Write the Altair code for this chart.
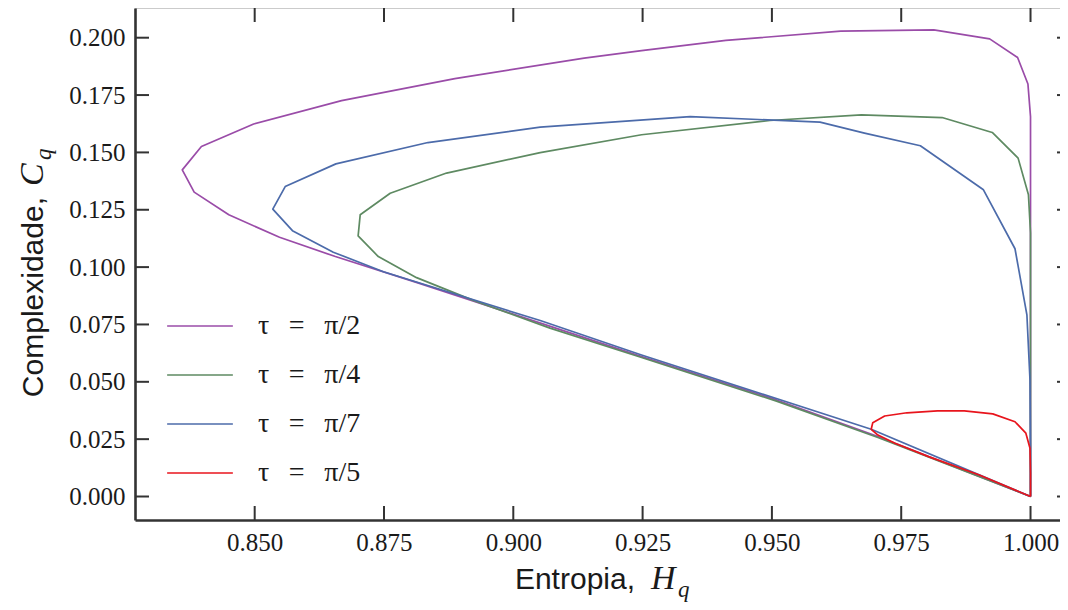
import altair as alt
import pandas as pd

# ---------------- data ----------------
labels = ["τ\u2002\u2009=\u2002\u2009π/2", "τ\u2002\u2009=\u2002\u2009π/4",
          "τ\u2002\u2009=\u2002\u2009π/7", "τ\u2002\u2009=\u2002\u2009π/5"]
colors = ["#9A4CA8", "#5E8A62", "#4C6BAA", "#E8141C"]
widths = [1.7, 1.7, 1.7, 2.3]

H_pi2 = [1.0, 0.9705, 0.9509, 0.9248, 0.9082, 0.8817, 0.8656, 0.8548, 0.8450, 0.8383,
         0.8360, 0.8397, 0.8498, 0.8668, 0.8887, 0.9137, 0.9248, 0.9411, 0.9633, 0.9813,
         0.9921, 0.9975, 0.9995, 1.0, 1.0]
C_pi2 = [0.0, 0.0261, 0.0421, 0.0610, 0.0734, 0.0930, 0.1046, 0.1130, 0.1228, 0.1327,
         0.1424, 0.1526, 0.1624, 0.1726, 0.1822, 0.1911, 0.1944, 0.1988, 0.2029, 0.2034,
         0.1995, 0.1914, 0.1798, 0.1656, 0.0]

H_pi4 = [1.0, 0.9705, 0.9509, 0.9248, 0.9071, 0.8920, 0.8813, 0.8739, 0.8700, 0.8704,
         0.8762, 0.8871, 0.9052, 0.9248, 0.9496, 0.9673, 0.9829, 0.9926, 0.9976, 0.9996,
         1.0, 1.0]
C_pi4 = [0.0, 0.0257, 0.0416, 0.0606, 0.0734, 0.0857, 0.0954, 0.1046, 0.1136, 0.1228,
         0.1322, 0.1410, 0.1499, 0.1577, 0.1639, 0.1664, 0.1652, 0.1587, 0.1475, 0.1315,
         0.1149, 0.0]

H_pi7 = [1.0, 0.9692, 0.9248, 0.9052, 0.8749, 0.8652, 0.8573, 0.8535, 0.8559, 0.8657,
         0.8835, 0.9052, 0.9342, 0.9593, 0.9679, 0.9787, 0.9909, 0.9970, 0.9993, 0.9999,
         1.0, 1.0]
C_pi7 = [0.0, 0.0293, 0.0617, 0.0767, 0.0980, 0.1065, 0.1159, 0.1253, 0.1351, 0.1450,
         0.1543, 0.1610, 0.1656, 0.1632, 0.1584, 0.1529, 0.1337, 0.1080, 0.0792, 0.0508,
         0.0203, 0.0]

H_pi5 = [1.0, 0.9901, 0.9803, 0.9738, 0.9705, 0.9692, 0.9695, 0.9718, 0.9761, 0.9820,
         0.9872, 0.9927, 0.9970, 0.9991, 0.9999, 1.0, 1.0]
C_pi5 = [0.0, 0.0094, 0.0174, 0.0232, 0.0268, 0.0293, 0.0322, 0.0351, 0.0365, 0.0373,
         0.0373, 0.0360, 0.0326, 0.0276, 0.0210, 0.0101, 0.0]

x_ticks = [0.850, 0.875, 0.900, 0.925, 0.950, 0.975, 1.000]
y_ticks = [0.000, 0.025, 0.050, 0.075, 0.100, 0.125, 0.150, 0.175, 0.200]

# ---------------- build table ----------------
rows = []
for lab, hs, cs in zip(labels, [H_pi2, H_pi4, H_pi7, H_pi5], [C_pi2, C_pi4, C_pi7, C_pi5]):
    for i, (h, c) in enumerate(zip(hs, cs)):
        rows.append({"H": h, "C": c, "serie": lab, "i": i})
df = pd.DataFrame(rows)

W, HGT = 925, 512
x_scale = alt.Scale(domain=[0.82686, 1.00570], nice=False, zero=False)
y_scale = alt.Scale(domain=[-0.01024, 0.21295], nice=False, zero=False)
FRAME = "#333333"
TXT = "#1a1a1a"
SERIF = "Liberation Serif"

x_axis = alt.Axis(values=x_ticks, format=".3f", title="", ticks=False, grid=False,
                  domain=True, domainColor=FRAME, domainWidth=2.6,
                  labelFont=SERIF, labelFontSize=25, labelColor=TXT,
                  labelPadding=10, labelFlush=False)
y_axis = alt.Axis(values=y_ticks, format=".3f", title="", ticks=False, grid=False,
                  domain=True, domainColor=FRAME, domainWidth=2.6,
                  labelFont=SERIF, labelFontSize=25, labelColor=TXT,
                  labelPadding=10, labelFlush=False)

lines = alt.Chart(df).mark_line(strokeJoin="round").encode(
    x=alt.X("H:Q", scale=x_scale, axis=x_axis),
    y=alt.Y("C:Q", scale=y_scale, axis=y_axis),
    color=alt.Color("serie:N", scale=alt.Scale(domain=labels, range=colors), title=None,
                    legend=alt.Legend(orient="none", legendX=51, legendY=304, padding=0,
                                      symbolType="M-6,0H6", symbolSize=120,
                                      symbolStrokeWidth=2.2, labelFont=SERIF,
                                      labelFontSize=28, labelColor=TXT, labelOffset=44,
                                      rowPadding=21, labelLimit=300)),
    strokeWidth=alt.StrokeWidth("serie:N", scale=alt.Scale(domain=labels, range=widths),
                                legend=None),
    order=alt.Order("i:Q"),
)

xt = pd.DataFrame({"v": x_ticks})
yt = pd.DataFrame({"v": y_ticks})

tick_bottom = alt.Chart(xt).mark_rule(color=FRAME, strokeWidth=2).encode(
    x=alt.X("v:Q", scale=x_scale, axis=x_axis), y=alt.value(HGT), y2=alt.value(HGT - 14))
tick_top = alt.Chart(xt).mark_rule(color=FRAME, strokeWidth=2).encode(
    x=alt.X("v:Q", scale=x_scale, axis=x_axis), y=alt.value(0), y2=alt.value(14))
tick_left = alt.Chart(yt).mark_rule(color=FRAME, strokeWidth=2).encode(
    y=alt.Y("v:Q", scale=y_scale, axis=y_axis), x=alt.value(0), x2=alt.value(14))
tick_right = alt.Chart(yt).mark_rule(color=FRAME, strokeWidth=2).encode(
    y=alt.Y("v:Q", scale=y_scale, axis=y_axis), x=alt.value(W - 3), x2=alt.value(W))

one = alt.Data(values=[{"a": 1}])
top_frame = alt.Chart(one).mark_rule(color=FRAME, strokeWidth=2.6).encode(
    x=alt.value(0), x2=alt.value(W), y=alt.value(-1))

SANS = "Liberation Sans"
xt1 = alt.Chart(one).mark_text(text="Entropia,", font=SANS, fontSize=30, align="right",
                               baseline="alphabetic", color=TXT).encode(
    x=alt.value(500), y=alt.value(581))
xt2 = alt.Chart(one).mark_text(text="H", font=SERIF, fontStyle="italic",
                               fontSize=34, align="left", baseline="alphabetic",
                               color=TXT).encode(x=alt.value(516), y=alt.value(581))
xt3 = alt.Chart(one).mark_text(text="q", font=SERIF, fontStyle="italic",
                               fontSize=23, align="left", baseline="alphabetic",
                               color=TXT).encode(x=alt.value(543), y=alt.value(589))

yt1 = alt.Chart(one).mark_text(text="Complexidade,", font=SANS, fontSize=30, angle=270,
                               align="right", baseline="alphabetic", color=TXT).encode(
    x=alt.value(-92), y=alt.value(189))
yt2 = alt.Chart(one).mark_text(text="C", font=SERIF, fontStyle="italic",
                               fontSize=34, angle=270, align="left", baseline="alphabetic",
                               color=TXT).encode(x=alt.value(-92), y=alt.value(178))
yt3 = alt.Chart(one).mark_text(text="q", font=SERIF, fontStyle="italic",
                               fontSize=23, angle=270, align="left", baseline="alphabetic",
                               color=TXT).encode(x=alt.value(-84), y=alt.value(152))

chart = alt.layer(
    lines, tick_bottom, tick_top, tick_left, tick_right, top_frame,
    xt1, xt2, xt3, yt1, yt2, yt3,
).properties(
    width=W, height=HGT,
    autosize=alt.AutoSizeParams(type="none"),
    padding={"left": 127, "top": 0, "right": 0, "bottom": 90},
).configure(background="white").configure_axis(
    labelFont=SERIF, labelFontSize=25, labelColor=TXT
).configure_legend(labelFont=SERIF).configure_view(stroke=None)

chart.save("out.html", embed_options={"renderer": "svg", "actions": False})
